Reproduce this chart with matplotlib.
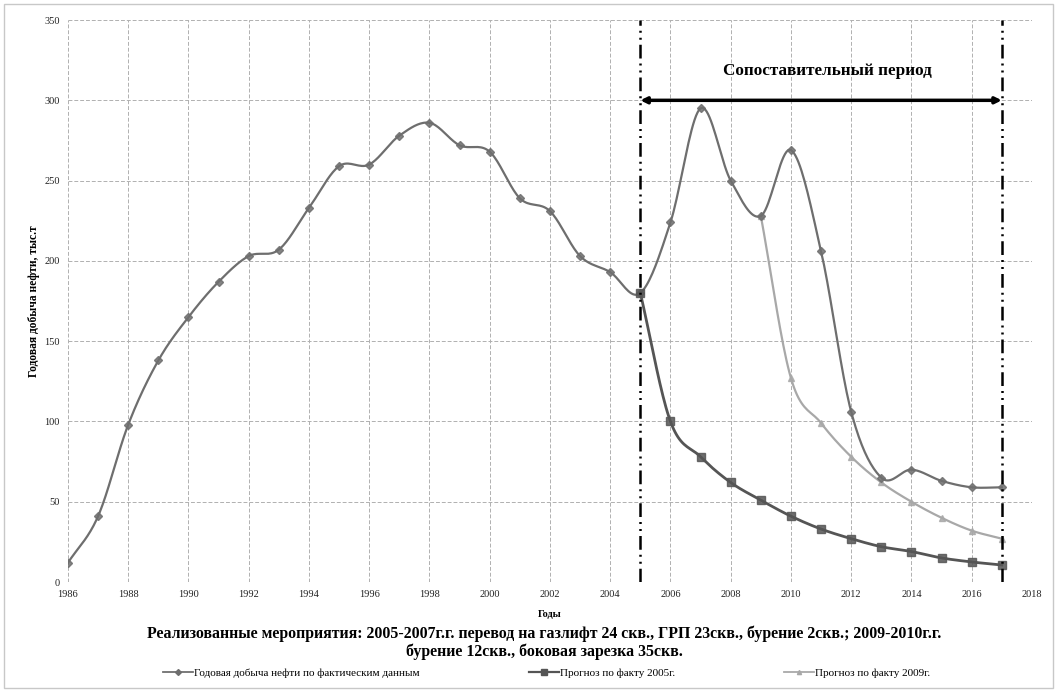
import numpy as np
import matplotlib
matplotlib.use("Agg")
import matplotlib.pyplot as plt
from matplotlib.patches import Rectangle

plt.rcParams['font.family'] = ['Liberation Serif', 'DejaVu Serif']

# Annual oil production, thousand tonnes
years_fact = list(range(1986, 2018))
prod_fact = [12, 41, 98, 138, 165, 187, 203, 207, 233, 259, 260, 278, 286, 272,
             268, 239, 231, 203, 193, 180, 224, 295, 250, 228, 269, 206, 106,
             65, 70, 63, 59, 59]

years_f2005 = list(range(2005, 2018))
prod_f2005 = [180, 100, 78, 62, 51, 41, 33, 27, 22, 19, 15, 12.5, 10.6]

years_f2009 = list(range(2009, 2018))
prod_f2009 = [228, 127, 99, 78, 62, 50, 40, 32, 27]

series_labels = ["Годовая добыча нефти по фактическим данным",
                 "Прогноз по факту 2005г.",
                 "Прогноз по факту 2009г."]
period_start, period_end = 2005, 2017
period_level = 300
x_ticks = list(range(1986, 2019, 2))
y_ticks = list(range(0, 351, 50))


def smooth(x, y, n=20):
    """Catmull-Rom curve through the points (spreadsheet-style smoothed line)."""
    x = np.asarray(x, float)
    y = np.asarray(y, float)
    px = np.concatenate([[2 * x[0] - x[1]], x, [2 * x[-1] - x[-2]]])
    py = np.concatenate([[2 * y[0] - y[1]], y, [2 * y[-1] - y[-2]]])
    xs, ys = [], []
    t = np.linspace(0, 1, n, endpoint=False)
    for i in range(1, len(px) - 2):
        for arr, out in ((px, xs), (py, ys)):
            p0, p1, p2, p3 = arr[i - 1], arr[i], arr[i + 1], arr[i + 2]
            out.extend(0.5 * ((2 * p1) + (-p0 + p2) * t
                              + (2 * p0 - 5 * p1 + 4 * p2 - p3) * t ** 2
                              + (-p0 + 3 * p1 - 3 * p2 + p3) * t ** 3))
    xs.append(x[-1])
    ys.append(y[-1])
    return np.array(xs), np.array(ys)


fig = plt.figure(figsize=(10.57, 6.91), dpi=100)
ax = fig.add_axes([0.0643, 0.1577, 0.912, 0.8133])

styles = [
    dict(color="#6e6e6e", marker="D", ms=4.5, lw=1.6, zorder=4),
    dict(color="#555555", marker="s", ms=6, lw=2.0, zorder=5),
    dict(color="#a8a8a8", marker="^", ms=4.5, lw=1.6, zorder=3),
]
data = [(years_fact, prod_fact), (years_f2005, prod_f2005), (years_f2009, prod_f2009)]
handles = []
for (xv, yv), st, lab in zip(data, styles, series_labels):
    sx, sy = smooth(xv, yv)
    ax.plot(sx, sy, color=st["color"], lw=st["lw"], zorder=st["zorder"])
    ax.plot(xv, yv, ls="none", marker=st["marker"], ms=st["ms"],
            mfc=st["color"], mec=st["color"], alpha=0.85, zorder=st["zorder"])
    h, = ax.plot([], [], color=st["color"], lw=st["lw"] * 0.8, marker=st["marker"],
                 ms=st["ms"] - 1.5, mfc=st["color"], mec=st["color"])
    handles.append(h)

ax.set_xlim(1986, 2018)
ax.set_ylim(0, 350)
ax.set_xticks(x_ticks)
ax.set_yticks(y_ticks)
ax.tick_params(length=0, labelsize=7.5, colors="#222222", pad=6)
ax.grid(True, color="#b0b0b0", lw=0.7, ls=(0, (4, 2)))
ax.set_axisbelow(True)
for sp in ax.spines.values():
    sp.set_visible(False)

# comparison-period boundaries
for xv in (period_start, period_end):
    ax.axvline(xv, color="black", lw=1.8, ls=(0, (5.5, 2, 0.8, 2, 0.8, 2)), zorder=6)

ax.annotate("", xy=(period_end, period_level), xytext=(period_start, period_level),
            arrowprops=dict(arrowstyle="<|-|>", color="black", lw=2.5,
                            mutation_scale=9, shrinkA=0, shrinkB=0), zorder=7)
ax.text((period_start + period_end) / 2 + 0.2, 318, "Сопоставительный период",
        ha="center", va="center", fontsize=12.3, fontweight="bold")

ax.set_ylabel("Годовая добыча нефти, тыс.т", fontsize=8.3, fontweight="bold", labelpad=3)
ax.set_xlabel("Годы", fontsize=7.5, fontweight="bold", labelpad=8)

fig.text(0.515, 0.070,
         "Реализованные мероприятия: 2005-2007г.г. перевод на газлифт 24 скв., ГРП 23скв., бурение 2скв.; 2009-2010г.г.\nбурение 12скв., боковая зарезка 35скв.",
         ha="center", va="center", fontsize=11.4, fontweight="bold", linespacing=1.1)

fig.legend(handles, series_labels, loc="center", bbox_to_anchor=(0.517, 0.026),
           ncol=3, frameon=False, fontsize=8, columnspacing=9.8, handlelength=2.7,
           handletextpad=0.1)

fig.patches.append(Rectangle((0.004, 0.004), 0.992, 0.99, transform=fig.transFigure,
                             fill=False, ec="#c8c8c8", lw=1.0))

fig.savefig("out.png", dpi=100)
